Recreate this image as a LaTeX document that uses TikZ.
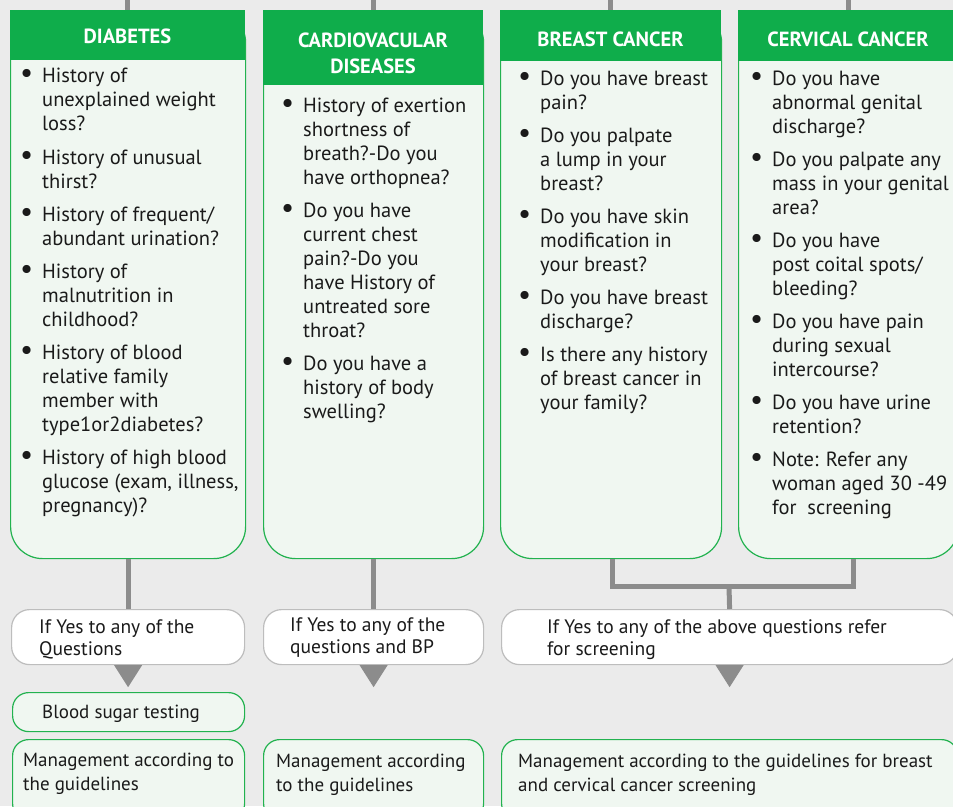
\documentclass[tikz,border=0pt]{standalone}
\usepackage{fontspec}
\setmainfont{PT Sans}
\usetikzlibrary{calc}
\definecolor{bg}{HTML}{EBEBEB}
\definecolor{hdrgreen}{HTML}{0FAD4B}
\definecolor{bodyfill}{HTML}{F0F7F1}
\definecolor{bordergreen}{HTML}{22B24F}
\definecolor{linegray}{HTML}{8C8C8C}
\definecolor{boxgray}{HTML}{BDBDBD}
\definecolor{textc}{HTML}{1A1A1A}
\newcommand\qfont{\fontsize{20.5}{24}\selectfont}
\newcommand\mfont{\fontsize{19}{24}\selectfont}
\newcommand\yfont{\fontsize{19.5}{22}\selectfont}
\newcommand\hfont{\fontsize{20.5}{26}\selectfont\bfseries}
\newcommand\bul{\strut\llap{{\fontsize{29}{24}\selectfont\textbullet}\hspace{9pt}}}
\tikzset{
  hdr/.style={fill=hdrgreen, inner sep=0pt, anchor=north west},
  htext/.style={text=white, font=\hfont, inner sep=0pt, anchor=base},
  body/.style={draw=bordergreen, fill=bodyfill, rounded corners=32pt, line width=1.2pt, inner sep=0pt, anchor=north west},
  ifbox/.style={draw=boxgray, fill=white, rounded corners=18pt, line width=1.2pt, inner sep=0pt, anchor=north west},
  mgbox/.style={draw=bordergreen, fill=bodyfill, rounded corners=16pt, line width=1.2pt, inner sep=0pt, anchor=north west},
  qtext/.style={anchor=north west, inner sep=0pt, align=left, font=\qfont, text=textc},
  mtext/.style={anchor=north west, inner sep=0pt, align=left, font=\mfont, text=textc},
  ytext/.style={anchor=north west, inner sep=0pt, align=left, font=\yfont, text=textc},
  link/.style={draw=linegray, line width=5pt},
  tip/.style={fill=linegray}
}
\begin{document}
\begin{tikzpicture}[x=1pt,y=-1pt]
\useasboundingbox (0,0) rectangle (953,806);
\clip (0,0) rectangle (953,806);
\fill[bg] (0,0) rectangle (953,806);

% column boxes
\node[body, minimum width=235, minimum height=548] (dia) at (10,10) {};
\node[body, minimum width=220, minimum height=548] (cvd) at (263,10) {};
\node[body, minimum width=221, minimum height=548] (brc) at (500,10) {};
\node[body, minimum width=220, minimum height=548] (cvc) at (738,10) {};

% headers
\node[hdr, minimum width=235, minimum height=50] (diah) at (10,10) {};
\node[hdr, minimum width=220, minimum height=75] (cvdh) at (263,10) {};
\node[hdr, minimum width=221, minimum height=51] (brch) at (500,10) {};
\node[hdr, minimum width=220, minimum height=51] (cvch) at (738,10) {};
\node[htext] (diaht) at (127.5,43) {DIABETES};
\node[htext] (cvdht1) at (373,47) {CARDIOVACULAR};
\node[htext] (cvdht2) at (373,73) {DISEASES};
\node[htext] (brcht) at (610.5,46) {BREAST CANCER};
\node[htext] (cvcht) at (848,46) {CERVICAL CANCER};

% stubs above the headers
\coordinate (diat) at ($(diah.north)+(0,-12)$);
\coordinate (cvdt) at ($(cvdh.north)+(0,-12)$);
\coordinate (brct) at ($(brch.north)+(0,-12)$);
\coordinate (cvct) at ($(cvch.north)+(0,-12)$);
\draw[link] (diat) -- (diah.north);
\draw[link] (cvdt) -- (cvdh.north);
\draw[link] (brct) -- (brch.north);
\draw[link] (cvct) -- (cvch.north);

% diabetes questions
\node[qtext] (d1) at (42,65.2) {\bul History of\\unexplained weight\\loss?};
\node[qtext] (d2) at (42,147.2) {\bul History of unusual\\thirst?};
\node[qtext] (d3) at (42,204.2) {\bul History of frequent/\\abundant urination?};
\node[qtext] (d4) at (42,261.2) {\bul History of\\malnutrition in\\childhood?};
\node[qtext] (d5) at (42,342.2) {\bul History of blood\\relative family\\member with\\type1or2diabetes?};
\node[qtext] (d6) at (42,447.2) {\bul History of high blood\\glucose (exam, illness,\\pregnancy)?};

% cardiovascular questions
\node[qtext] (c1) at (303,95.2) {\bul History of exertion\\shortness of\\breath?-Do you\\have orthopnea?};
\node[qtext] (c2) at (303,200.2) {\bul Do you have\\current chest\\pain?-Do you\\have History of\\untreated sore\\throat?};
\node[qtext] (c3) at (303,353.2) {\bul Do you have a\\history of body\\swelling?};

% breast cancer questions
\node[qtext] (b1) at (540,68.2) {\bul Do you have breast\\pain?};
\node[qtext] (b2) at (540,125.2) {\bul Do you palpate\\a lump in your\\breast?};
\node[qtext] (b3) at (540,206.2) {\bul Do you have skin\\modification in\\your breast?};
\node[qtext] (b4) at (540,287.2) {\bul Do you have breast\\discharge?};
\node[qtext] (b5) at (540,344.2) {\bul Is there any history\\of breast cancer in\\your family?};

% cervical cancer questions
\node[qtext] (v1) at (772,68.2) {\bul Do you have\\abnormal genital\\discharge?};
\node[qtext] (v2) at (772,149.2) {\bul Do you palpate any\\mass in your genital\\area?};
\node[qtext] (v3) at (772,230.2) {\bul Do you have\\post coital spots/\\bleeding?};
\node[qtext] (v4) at (772,311.2) {\bul Do you have pain\\during sexual\\intercourse?};
\node[qtext] (v5) at (772,392.2) {\bul Do you have urine\\retention?};
\node[qtext] (v6) at (772,449.2) {\bul Note: Refer any\\woman aged 30 -49\\for\ \ screening};

% decision boxes
\node[ifbox, minimum width=233, minimum height=55] (diay) at (11,609) {};
\node[ifbox, minimum width=220, minimum height=55] (cvdy) at (263,609) {};
\node[ifbox, minimum width=456, minimum height=55] (scry) at (501,609) {};
\node[ytext] (diayt) at (39,617.6) {\strut If Yes to any of the\\Questions};
\node[ytext] (cvdyt) at (290,615.6) {\strut If Yes to any of the\\questions and BP};
\node[ytext] (scryt) at (547,617.6) {\strut If Yes to any of the above questions refer\\for screening};

% connectors to decision boxes
\coordinate (jn) at (729,586);
\draw[link] (dia.south) -- (diay.north);
\draw[link] (cvd.south) -- (cvdy.north);
\draw[link] ($(brc.south)+(1.5,0)$) |- (jn) -| ($(cvc.south)+(5,0)$);
\draw[link] (jn) -- (scry.north);

% arrow tips below decision boxes
\fill[tip] ($(diay.south)+(-14,0)$) -- ($(diay.south)+(14,0)$) -- ($(diay.south)+(0,22)$) -- cycle;
\fill[tip] ($(cvdy.south)+(-14,0)$) -- ($(cvdy.south)+(14,0)$) -- ($(cvdy.south)+(0,22)$) -- cycle;
\fill[tip] ($(scry.south)+(-14,0)$) -- ($(scry.south)+(14,0)$) -- ($(scry.south)+(0,22)$) -- cycle;

% test and management boxes
\node[mgbox, minimum width=232, minimum height=39] (bst) at (12,692) {};
\node[mtext] (bstt) at (42,701.2) {\strut Blood sugar testing};
\node[mgbox, minimum width=232, minimum height=80] (diam) at (12,739) {};
\node[mgbox, minimum width=220, minimum height=80] (cvdm) at (263,739) {};
\node[mgbox, minimum width=456, minimum height=80] (scrm) at (501,739) {};
\node[mtext] (diamt) at (23,749.2) {\strut Management according to\\the guidelines};
\node[mtext] (cvdmt) at (276,750.2) {\strut Management according\\to the guidelines};
\node[mtext] (scrmt) at (518,750.2) {\strut Management according to the guidelines for breast\\and cervical cancer screening};
\end{tikzpicture}
\end{document}
